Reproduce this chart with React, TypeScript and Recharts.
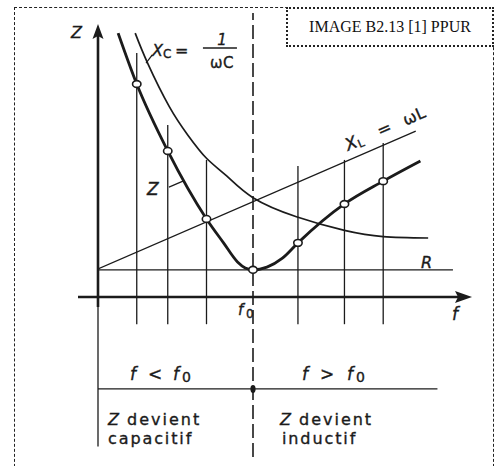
import React from 'react';
import { ComposedChart, XAxis, YAxis, Line, ReferenceLine, ReferenceDot } from 'recharts';

// frequency in units of f0, reactances / impedance in units of R
const xcFreq = [0.24, 0.32, 0.46, 0.58, 0.7, 0.83, 1, 1.28, 1.59, 1.84, 2.13];
const xcValues = [9.7, 8.6, 7.0, 5.95, 5.1, 4.45, 3.65, 2.95, 2.45, 2.22, 2.17];

const xlFreq = [0, 2.05];
const xlValues = [1.03, 6.1];

const rFreq = [0, 2.29];
const rValues = [1, 1];

const zFreq = [0.13, 0.25, 0.45, 0.7, 0.81, 0.9, 0.95, 1, 1.09, 1.19, 1.29, 1.59, 1.84, 2.08];
const zValues = [9.7, 7.83, 5.37, 2.87, 1.99, 1.29, 1.07, 1, 1.1, 1.43, 1.99, 3.42, 4.26, 5.0];

const sampleFreq = [0.25, 0.45, 0.7, 1.29, 1.59, 1.84];
const sampleTop = [8.97, 6.32, 5.04, 4.82, 5.04, 5.66];
const F0 = 1;
const markFreq = [...sampleFreq, F0];

// levels of the explanation block under the f axis
const sampleBottom = -1;
const splitLevel = -3.38;
const frameBottom = -5.5;

const INK = '#1b1b1b';
const SANS = '"DejaVu Sans", sans-serif';

const toPoints = (fs: number[], vs: number[]) => fs.map((f, i) => ({ f, v: vs[i] }));

const arrowShape = (head: number, half: number) => (p: any) => {
  const { x1, y1, x2, y2 } = p;
  const len = Math.hypot(x2 - x1, y2 - y1);
  const ux = (x2 - x1) / len;
  const uy = (y2 - y1) / len;
  const bx = x2 - ux * head;
  const by = y2 - uy * head;
  const nx = -uy * half;
  const ny = ux * half;
  return (
    <g>
      <line x1={x1} y1={y1} x2={bx + ux * 3} y2={by + uy * 3} stroke={INK} strokeWidth={2.6} />
      <polygon
        points={`${x2},${y2} ${bx + nx},${by + ny} ${bx + ux * 3},${by + uy * 3} ${bx - nx},${by - ny}`}
        fill={INK}
      />
    </g>
  );
};

const zDot = (p: any) => {
  const key = `zd-${p.index}`;
  if (!markFreq.includes(p.payload.f)) return <g key={key} />;
  return <ellipse key={key} cx={p.cx} cy={p.cy} rx={4.2} ry={3.4} fill="#fff" stroke={INK} strokeWidth={1.6} />;
};

// text placed at a point of the chart; a thin outline gives the heavier print look
const note = (key: string, f: number, v: number, draw: (x: number, y: number) => React.ReactNode) => (
  <ReferenceDot
    key={key}
    x={f}
    y={v}
    r={0}
    ifOverflow="visible"
    shape={(p: any) => (
      <g fontFamily={SANS} fill={INK} stroke={INK} strokeWidth={0.35}>
        {draw(p.cx, p.cy)}
      </g>
    )}
  />
);

const it = { fontStyle: 'italic' as const };

const segment = (key: string, a: [number, number], b: [number, number], width = 1.3, dash?: string) => (
  <ReferenceLine
    key={key}
    segment={[{ x: a[0], y: a[1] }, { x: b[0], y: b[1] }]}
    stroke={INK}
    strokeWidth={width}
    strokeDasharray={dash}
    ifOverflow="visible"
  />
);

export default function App() {
  return (
    <div style={{ position: 'absolute', left: 0, top: 0, width: 499, height: 466, overflow: 'hidden', background: '#fff' }}>
      <div
        style={{
          position: 'absolute', left: 14, top: 7, width: 480, height: 480,
          border: '1px dashed #222', boxSizing: 'border-box',
        }}
      />
      <div style={{ position: 'absolute', left: 0, top: 0 }}>
        <ComposedChart width={499} height={466} margin={{ top: 25, right: 29, bottom: 169, left: 98 }}>
          <XAxis type="number" dataKey="f" domain={[0, 2.4]} allowDataOverflow hide />
          <YAxis type="number" domain={[0, 10]} allowDataOverflow hide />

          {sampleFreq.map((f, i) => segment(`s${i}`, [f, sampleBottom], [f, sampleTop[i]]))}
          {segment('f0', [F0, -5.88], [F0, 10.44], 1.6, '14 5')}
          {segment('split', [0, splitLevel], [2.19, splitLevel], 1.3)}
          {segment('frame', [0, -0.37], [0, frameBottom], 1.3)}
          {segment('zLead', [0.458, 4.04], [0.548, 4.26], 1.2)}
          {segment('xcLead', [0.31, 8.6], [0.35, 8.9], 1.2)}

          <ReferenceLine segment={[{ x: 0, y: -0.37 }, { x: 0, y: 10.04 }]} ifOverflow="visible" shape={arrowShape(15, 5.5)} />
          <ReferenceLine segment={[{ x: -0.129, y: 0 }, { x: 2.413, y: 0 }]} ifOverflow="visible" shape={arrowShape(17, 6)} />

          <Line data={toPoints(rFreq, rValues)} dataKey="v" type="linear" stroke={INK} strokeWidth={1.3} dot={false} activeDot={false} isAnimationActive={false} />
          <Line data={toPoints(xlFreq, xlValues)} dataKey="v" type="linear" stroke={INK} strokeWidth={1.3} dot={false} activeDot={false} isAnimationActive={false} />
          <Line data={toPoints(xcFreq, xcValues)} dataKey="v" type="natural" stroke={INK} strokeWidth={1.7} dot={false} activeDot={false} isAnimationActive={false} />
          <Line data={toPoints(zFreq, zValues)} dataKey="v" type="monotone" stroke={INK} strokeWidth={2.8} dot={zDot} activeDot={false} isAnimationActive={false} />

          <ReferenceDot
            x={F0}
            y={splitLevel}
            r={0}
            ifOverflow="visible"
            shape={(p: any) => <ellipse cx={p.cx} cy={p.cy} rx={2.6} ry={4} fill={INK} />}
          />

          {note('zAxis', -0.174, 9.52, (x, y) => <text x={x} y={y} fontSize={16} {...it}>Z</text>)}
          {note('fAxis', 2.284, -0.85, (x, y) => <text x={x} y={y} fontSize={17} {...it}>f</text>)}
          {note('f0', 0.903, -0.66, (x, y) => (
            <>
              <text x={x} y={y} fontSize={15} {...it}>f</text>
              <text x={x + 8} y={y + 3} fontSize={12}>0</text>
            </>
          ))}
          {note('r', 2.084, 1.07, (x, y) => <text x={x} y={y} fontSize={16} {...it}>R</text>)}
          {note('z', 0.316, 3.75, (x, y) => <text x={x} y={y} fontSize={17} {...it}>Z</text>)}
          {note('xc', 0.348, 8.86, (x, y) => (
            <>
              <text x={x} y={y} fontSize={16} {...it}>X</text>
              <text x={x + 11} y={y + 2} fontSize={12}>C</text>
              <text x={x + 23} y={y} fontSize={16}>=</text>
              <line x1={x + 51} y1={y - 8} x2={x + 85} y2={y - 8} stroke={INK} strokeWidth={1.4} />
              <text x={x + 70} y={y - 11} fontSize={15} textAnchor="middle" {...it}>1</text>
              <text x={x + 70} y={y + 12} fontSize={15} textAnchor="middle" letterSpacing={0.5}>ωC</text>
            </>
          ))}
          {note('xl', 1.613, 5.37, (x, y) => (
            <g transform={`translate(${x},${y}) rotate(-23.6)`}>
              <text x={0} y={0} fontSize={17} {...it}>X</text>
              <text x={12} y={2} fontSize={11}>L</text>
              <text x={35} y={0} fontSize={17}>=</text>
              <text x={63} y={0} fontSize={16} letterSpacing={0.5}>ωL</text>
            </g>
          ))}

          {note('below', 0.206, -3.05, (x, y) => (
            <>
              <text x={x} y={y} fontSize={17} {...it}>f</text>
              <text x={x + 18} y={y} fontSize={17}>&lt;</text>
              <text x={x + 43} y={y} fontSize={17} {...it}>f</text>
              <text x={x + 52} y={y + 2} fontSize={14}>0</text>
            </>
          ))}
          {note('above', 1.316, -3.05, (x, y) => (
            <>
              <text x={x} y={y} fontSize={17} {...it}>f</text>
              <text x={x + 18} y={y} fontSize={17}>&gt;</text>
              <text x={x + 45} y={y} fontSize={17} {...it}>f</text>
              <text x={x + 54} y={y + 2} fontSize={14}>0</text>
            </>
          ))}
          {note('capa', 0.0645, -4.71, (x, y) => (
            <>
              <text x={x} y={y} fontSize={16} {...it}>Z</text>
              <text x={x + 19} y={y} fontSize={16} letterSpacing={2}>devient</text>
              <text x={x} y={y + 19} fontSize={16} letterSpacing={1.9}>capacitif</text>
            </>
          ))}
          {note('indu', 1.174, -4.71, (x, y) => (
            <>
              <text x={x} y={y} fontSize={16} {...it}>Z</text>
              <text x={x + 19} y={y} fontSize={16} letterSpacing={2}>devient</text>
              <text x={x + 2} y={y + 19} fontSize={16} letterSpacing={1.9}>inductif</text>
            </>
          ))}
        </ComposedChart>
      </div>
      <div
        style={{
          position: 'absolute', left: 286, top: 7, width: 208, height: 40, boxSizing: 'border-box',
          border: '2px dotted #222', background: '#fff', display: 'flex', alignItems: 'center',
          justifyContent: 'center', fontFamily: '"Liberation Serif", "Times New Roman", serif', fontSize: 16, color: '#111',
        }}
      >
        IMAGE B2.13 [1] PPUR
      </div>
    </div>
  );
}
